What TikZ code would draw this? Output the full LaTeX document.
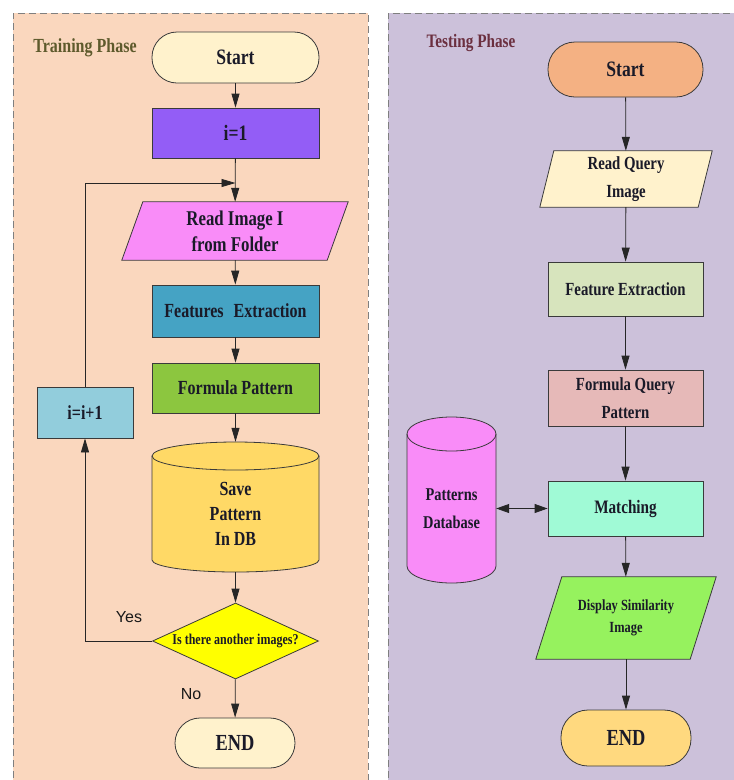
\documentclass[tikz,border=0pt]{standalone}
\usepackage{fontspec}
\setmainfont{Liberation Serif}[FakeStretch=0.8]
\newfontfamily\lblfont{Liberation Sans}
\usetikzlibrary{arrows.meta,shapes.geometric}
\pgfdeclarelayer{bg}
\pgfdeclarelayer{mid}
\pgfsetlayers{bg,mid,main}
\definecolor{leftbg}{HTML}{FAD7BE}
\definecolor{rightbg}{HTML}{CCC1DA}
\definecolor{panelline}{HTML}{7F7F7F}
\definecolor{edge}{HTML}{3A3A3A}
\definecolor{txt}{HTML}{1A1A28}
\definecolor{cream}{HTML}{FFF2CC}
\definecolor{purp}{HTML}{935DF6}
\definecolor{pinkm}{HTML}{F98CF8}
\definecolor{tealb}{HTML}{45A3C4}
\definecolor{greenf}{HTML}{8CC63F}
\definecolor{cylY}{HTML}{FFD966}
\definecolor{yel}{HTML}{FFFF00}
\definecolor{ltblue}{HTML}{92CDDC}
\definecolor{orng}{HTML}{F4B183}
\definecolor{sage}{HTML}{D7E4BD}
\definecolor{rose}{HTML}{E6B9B8}
\definecolor{aqua}{HTML}{A0FAD6}
\definecolor{lime}{HTML}{96F25E}
\definecolor{gold}{HTML}{FFD97F}
\definecolor{olivet}{HTML}{5E5A2C}
\definecolor{maroont}{HTML}{6B2F3F}
\newcommand{\fsz}[2]{\fontsize{#1}{#2}\selectfont\bfseries}
\newcommand{\paral}[3]{%
  \begin{pgfonlayer}{mid}
  \filldraw[fill=#3, draw=edge, line width=0.8pt]
    ([xshift=#2pt]#1.north west) -- ([xshift=#2pt]#1.north east) --
    ([xshift=-#2pt]#1.south east) -- ([xshift=-#2pt]#1.south west) -- cycle;
  \end{pgfonlayer}}
\begin{document}
\begin{tikzpicture}[x=1pt,y=1pt,
  plain/.style={inner sep=0pt, align=center, text=txt},
  box/.style={plain, draw=edge, line width=0.8pt, minimum width=167pt, minimum height=50pt},
  term/.style={box, rounded corners=25pt},
  arr/.style={-{Triangle[length=14pt,width=8pt]}, line width=0.8pt, draw=black!85},
  darr/.style={{Triangle[length=13pt,width=9pt]}-{Triangle[length=13pt,width=9pt]}, line width=0.8pt, draw=black!85},
  lbl/.style={inner sep=0pt, font=\lblfont\fontsize{16}{18}\selectfont, text=black!90},
  panel/.style={draw=panelline, line width=0.8pt, dash pattern=on 7pt off 4pt}
]
\useasboundingbox (0,0) rectangle (734,-780);
\begin{pgfonlayer}{bg}
\fill[white] (0,0) rectangle (734,-780);
\fill[leftbg] (13,-13) rectangle (368,-800);
\draw[panel] (13,-800) -- (13,-13) -- (368,-13) -- (368,-800);
\fill[rightbg] (388,-13) rectangle (760,-800);
\draw[panel] (388,-800) -- (388,-13) -- (760,-13);
\end{pgfonlayer}

% ---------- Training phase ----------
\node[plain, text=olivet, font=\fsz{20}{24}] (tp) at (85,-48) {Training Phase};
\node[term, fill=cream, minimum height=51pt, font=\fsz{22}{26}] (s1) at (235.5,-57.5) {Start};
\node[box, fill=purp, font=\fsz{22}{26}] (i1) at (235.5,-133) {i=1};
\node[plain, minimum width=205pt, minimum height=58pt, font=\fsz{21}{26}] (rd) at (235,-231) {Read Image I\\from Folder};
\paral{rd}{10.5}{pinkm}
\node[box, fill=tealb, minimum height=52pt, font=\fsz{20}{24}] (fe) at (235.5,-311) {Features\enspace Extraction};
\node[box, fill=greenf, font=\fsz{20}{24}] (fp) at (235.5,-388) {Formula Pattern};
\node[plain, minimum width=167pt, minimum height=130pt] (sv) at (235.5,-507) {};
\begin{pgfonlayer}{mid}
\filldraw[fill=cylY, draw=edge, line width=0.8pt] (152,-456) -- (152,-560)
  arc[start angle=180,end angle=360,x radius=83.5pt,y radius=12pt] -- (319,-456)
  arc[start angle=0,end angle=180,x radius=83.5pt,y radius=14pt] -- cycle;
\draw[edge, line width=0.8pt] (152,-456) arc[start angle=180,end angle=360,x radius=83.5pt,y radius=14pt];
\end{pgfonlayer}
\node[plain, font=\fsz{20}{25}] (svt) at (235.5,-514) {Save\\Pattern\\In DB};
\node[diamond, aspect=2.2, draw=edge, line width=0.8pt, fill=yel, inner sep=0pt, minimum width=166pt, minimum height=76pt, text=txt, font=\fsz{15}{18}] (dq) at (235.5,-641) {Is there another images?};
\node[term, fill=cream, minimum width=120pt, font=\fsz{23}{26}] (e1) at (235,-743) {END};
\node[box, fill=ltblue, minimum width=96pt, minimum height=51pt, font=\fsz{20}{24}] (inc) at (85,-412.5) {i=i+1};
\node[lbl] (yes) at (129,-617) {Yes};
\node[lbl] (no) at (191,-694) {No};
\coordinate (join) at (235.5,-183);

\draw[arr] (s1) -- (i1);
\draw[arr] (i1) -- (rd);
\draw[arr] (rd) -- (fe);
\draw[arr] (fe) -- (fp);
\draw[arr] (fp) -- (sv);
\draw[arr] (sv) -- (dq);
\draw[arr] (dq) -- (e1);
\draw[arr] (dq.west) -| (inc.south);
\draw[arr] (inc.north) |- (join);

% ---------- Testing phase ----------
\node[plain, text=maroont, font=\fsz{19}{23}] (tsp) at (471,-43) {Testing Phase};
\node[term, fill=orng, minimum width=155pt, minimum height=55pt, rounded corners=27pt, font=\fsz{22}{26}] (s2) at (625.5,-69.5) {Start};
\node[plain, minimum width=158pt, minimum height=56pt, font=\fsz{18.5}{28}] (rq) at (626,-179) {Read Query\\Image};
\paral{rq}{7}{cream}
\node[box, fill=sage, minimum width=155pt, minimum height=54pt, font=\fsz{18.5}{24}] (fx) at (625.5,-289) {Feature Extraction};
\node[box, fill=rose, minimum width=155pt, minimum height=56pt, font=\fsz{18.5}{28}] (fq) at (625.5,-398) {Formula Query\\Pattern};
\node[box, fill=aqua, minimum width=155pt, minimum height=55pt, font=\fsz{19}{24}] (mt) at (625.5,-508.5) {Matching};
\node[plain, minimum width=154pt, minimum height=82pt, font=\fsz{15.5}{22}] (ds) at (626,-618) {Display Similarity\\Image};
\paral{ds}{13}{lime}
\node[term, fill=gold, minimum width=130pt, minimum height=56pt, rounded corners=27pt, font=\fsz{23}{26}] (e2) at (626,-738) {END};
\node[plain, minimum width=89pt, minimum height=166pt] (pdb) at (451.5,-500) {};
\begin{pgfonlayer}{mid}
\filldraw[fill=pinkm, draw=edge, line width=0.8pt] (407,-434) -- (407,-566)
  arc[start angle=180,end angle=360,x radius=44.5pt,y radius=17pt] -- (496,-434)
  arc[start angle=0,end angle=180,x radius=44.5pt,y radius=17pt] -- cycle;
\draw[edge, line width=0.8pt] (407,-434) arc[start angle=180,end angle=360,x radius=44.5pt,y radius=17pt];
\end{pgfonlayer}
\node[plain, font=\fsz{18}{28}] (pdbt) at (451.5,-509) {Patterns\\Database};

\draw[arr] (s2) -- (rq);
\draw[arr] (rq) -- (fx);
\draw[arr] (fx) -- (fq);
\draw[arr] (fq) -- (mt);
\draw[arr] (mt) -- (ds);
\draw[arr] (ds) -- (e2);
\draw[darr] (pdb.east |- mt.west) -- (mt.west);
\end{tikzpicture}
\end{document}
